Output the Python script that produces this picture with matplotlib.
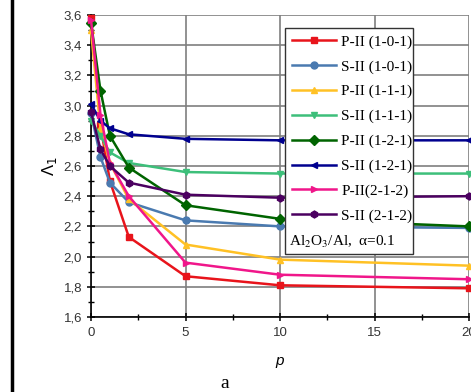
import matplotlib
matplotlib.use('Agg')
import matplotlib.pyplot as plt
from matplotlib.ticker import MultipleLocator, FuncFormatter
from matplotlib.patches import Rectangle
from matplotlib.lines import Line2D

p = [0, 0.5, 1, 2, 5, 10, 20]

series = [
    ('P-II (1-0-1)', '#e8141b', 's', [3.58, 2.87, 2.50, 2.13, 1.87, 1.81, 1.79]),
    ('S-II (1-0-1)', '#4a7ab0', 'o', [2.95, 2.66, 2.49, 2.36, 2.24, 2.20, 2.19]),
    ('P-II (1-1-1)', '#ffc125', '^', [3.50, 2.85, 2.62, 2.38, 2.08, 1.98, 1.94]),
    ('S-II (1-1-1)', '#3dbf7a', 'v', [2.90, 2.80, 2.69, 2.62, 2.56, 2.55, 2.55]),
    ('P-II (1-2-1)', '#006400', 'D', [3.55, 3.10, 2.80, 2.59, 2.34, 2.25, 2.20]),
    ('S-II (1-2-1)', '#00008f', '<', [3.01, 2.90, 2.85, 2.81, 2.78, 2.77, 2.77]),
    ('P-II(2-1-2)', '#f0168a', '>', [3.57, 2.94, 2.62, 2.40, 1.96, 1.88, 1.85]),
    ('S-II (2-1-2)', '#4b0060', 'h', [2.96, 2.71, 2.60, 2.49, 2.41, 2.39, 2.40]),
]

fig = plt.figure(figsize=(4.71, 3.92), dpi=100)
ax = fig.add_axes([91/471, 75/392, 378/471, 302/392])

for name, col, mk, vals in series:
    ax.plot(p, vals, color=col, marker=mk, lw=1.8, ms=5, label=name, clip_on=False, zorder=3)

ax.set_xlim(0, 20)
ax.set_ylim(1.6, 3.6)
ax.xaxis.set_major_locator(MultipleLocator(5))
ax.xaxis.set_minor_locator(MultipleLocator(2.5))
ax.yaxis.set_major_locator(MultipleLocator(0.2))
ax.yaxis.set_minor_locator(MultipleLocator(0.1))
ax.yaxis.set_major_formatter(FuncFormatter(lambda v, pos: ('%.1f' % v).replace('.', ',')))
ax.grid(True, which='major', color='#7f7f7f', lw=1.2, zorder=0)
ax.set_axisbelow(True)
for s in ['top', 'right']:
    ax.spines[s].set_visible(False)
ax.spines['left'].set_linewidth(1.2)
ax.spines['bottom'].set_linewidth(1.2)
ax.tick_params(which='major', direction='inout', length=6, width=1.1, labelsize=9.5,
               labelcolor='#333333')
ax.tick_params(which='minor', direction='inout', length=4, width=1)
ax.tick_params(axis='x', pad=4)
for lab in ax.get_xticklabels() + ax.get_yticklabels():
    lab.set_family('Liberation Sans')

ax.set_xlabel('p', fontsize=11, style='italic', family='Liberation Sans', labelpad=11)
ax.set_ylabel('Λ$_1$', fontsize=12, family='Liberation Sans', math_fontfamily='dejavusans', labelpad=3)

# legend box drawn by hand so the extra note fits inside
box = Rectangle((0.513, 0.209), 0.852 - 0.513, 0.957 - 0.209, transform=ax.transAxes,
                facecolor='white', edgecolor='#333333', lw=1.0, zorder=4)
ax.add_patch(box)
leg = ax.legend(loc='upper left', bbox_to_anchor=(0.513, 0.957), borderaxespad=0,
                frameon=False, handlelength=2.9, handletextpad=0.35, labelspacing=0.72,
                borderpad=0.45, prop={'family': 'Liberation Serif', 'size': 11})
leg.set_zorder(5)
ax.text(0.525, 0.248, 'Al$_2$O$_3$/Al,  α=0.1', transform=ax.transAxes, fontsize=11,
        family='Liberation Serif', math_fontfamily='stix', zorder=6, va='center')

fig.text(225/471, 1 - 383/392, 'a', fontsize=14, family='Liberation Serif', ha='center', va='center')
fig.add_artist(Line2D([11.5/471, 11.5/471], [0, 1], color='black', lw=2.5))

fig.savefig('out.png', dpi=100)
